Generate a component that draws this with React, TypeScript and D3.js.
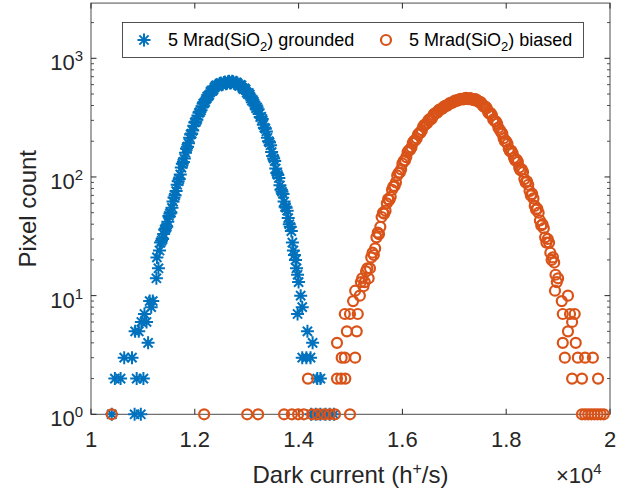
import React from 'react';
import * as d3 from 'd3';

const W = 628;
const H = 493;

// Grounded device: histogram core (40 h+/s bins from 11320), the interleaved
// half-step bins, and the sparse tail bins
const GROUNDED_CORE_START = 11320;
const GROUNDED_CORE_STEP = 40;
const GROUNDED_CORE_COUNT = [
  24, 29, 33, 37, 42, 49, 55, 67, 76, 92, 105, 129, 143, 174, 192, 228, 246, 288, 303, 347,
  365, 414, 428, 477, 492, 535, 545, 585, 582, 612, 600, 625, 610, 633, 620, 640, 615, 628,
  592, 598, 562, 558, 515, 510, 458, 445, 398, 386, 340, 322, 276, 255, 214, 195, 162, 143,
  118, 104, 85, 75, 62, 55, 45, 38, 28, 22, 17, 13,
];
const GROUNDED_MID_COUNT = [
  28, 30, 36, 38, 47, 50, 62, 70, 86, 96, 120, 134, 160, 180, 214, 232, 270, 292, 330, 352,
  395, 418, 458, 480, 520, 532, 570, 592, 596, 618, 605, 630, 615, 640, 622, 635, 610, 618,
  585, 590, 550, 545, 500, 494, 440, 430, 380, 372, 320, 308, 260, 242, 200, 185, 150, 136,
  108, 98, 78, 72, 56, 52, 40, 35, 24, 20, 15,
];
const GROUNDED_TAIL_DC = [
  10400, 10840, 10960, 10460, 10570, 10880, 11010, 10640, 10790, 11100, 10850, 10920, 10970,
  11070, 11030, 11130, 11160, 11190, 11260, 11300, 11270,
  13980, 14070, 14040, 14170, 14270, 14070, 14150, 14230, 14360, 14420, 14240, 14330, 14420,
  14520, 14600, 14680,
];
const GROUNDED_TAIL_COUNT = [
  1, 1, 1, 2, 2, 2, 2, 3, 3, 4, 5, 5, 6, 6, 7, 9, 8, 9, 14, 17, 21,
  7, 8, 10, 5, 4, 3, 3, 3, 2, 2, 1, 1, 1, 1, 1, 1,
];

// Biased device: histogram core (50 h+/s bins from 15200), interleaved
// half-step bins and sparse tail bins
const BIASED_CORE_START = 15200;
const BIASED_CORE_STEP = 50;
const BIASED_CORE_COUNT = [
  13, 12, 16, 14, 21, 22, 31, 33, 46, 49, 60, 64, 78, 84, 103, 109, 130, 138, 162, 170, 194,
  204, 228, 236, 266, 278, 300, 306, 335, 344, 366, 372, 392, 396, 416, 420, 436, 440, 450,
  452, 460, 455, 462, 448, 452, 438, 430, 398, 392, 352, 345, 305, 294, 260, 240, 212, 200,
  172, 166, 145, 140, 120, 116, 96, 92, 76, 72, 57, 54, 43, 40, 31, 30, 23, 21, 15, 14,
];
const BIASED_MID_COUNT = [
  14, 13, 17, 17, 23, 25, 34, 38, 50, 52, 65, 68, 83, 90, 108, 116, 136, 147, 168, 178, 202,
  212, 234, 248, 275, 284, 307, 315, 344, 350, 372, 378, 398, 402, 422, 424, 442, 442, 455,
  450, 464, 452, 458, 444, 448, 426, 420, 390, 380, 342, 332, 296, 282, 250, 232, 200, 190,
  165, 158, 138, 134, 114, 110, 90, 86, 70, 66, 53, 50, 39, 37, 28, 28, 20, 19, 13,
];
const BIASED_TAIL_DC = [
  10400, 12180, 13010, 13220, 13720, 13870, 13990, 14100, 14260, 14370, 14490, 14600, 14700,
  14990, 14180, 14740, 14820, 14900, 14830, 14890, 15090, 14740, 14930, 15120, 14890, 14990,
  15140, 15050, 15180, 15090,
  18940, 19070, 19190, 19090, 19230, 19320, 19270, 19190, 19090, 19340, 19130, 19380, 19520,
  19670, 19270, 19460, 19770, 19460, 19520, 19580, 19640, 19700, 19760, 19820, 19880,
];
const BIASED_TAIL_COUNT = [
  1, 1, 1, 1, 1, 1, 1, 1, 1, 1, 1, 1, 1,
  1, 2, 2, 2, 2, 3, 3, 3, 4, 5, 5, 7, 7,
  7, 9, 10, 11,
  11, 9, 10, 7, 7, 7, 6, 5, 4, 4, 3, 3, 3,
  3, 2, 2, 2, 1, 1, 1, 1, 1, 1, 1, 1,
];

const X_TICKS = [10000, 12000, 14000, 16000, 18000, 20000];
const X_TICK_LABELS = ['1', '1.2', '1.4', '1.6', '1.8', '2'];
const Y_TICKS = [1, 10, 100, 1000];
const Y_TICK_EXPONENTS = ['0', '1', '2', '3'];

const SERIES_NAMES = ['grounded', 'biased'];
const BLUE = '#0072BD';
const ORANGE = '#D95319';
const INK = '#262626';
const FONT = '"Liberation Sans", Arial, Helvetica, sans-serif';

type Pt = { dc: number; n: number };

function buildSeries(
  start: number,
  step: number,
  core: number[],
  mid: number[],
  tailDc: number[],
  tailN: number[],
): Pt[] {
  const bins = core.map((n, i) => ({ dc: start + i * step, n }));
  const half = mid.map((n, i) => ({ dc: start + step / 2 + i * step, n }));
  const tail = tailDc.map((dc, i) => ({ dc, n: tailN[i] }));
  return [...tail, ...bins, ...half];
}

const STAR = 'M-6.5,0H6.5M0,-6.5V6.5M-4.6,-4.6L4.6,4.6M-4.6,4.6L4.6,-4.6';

export default function App() {
  const x = d3.scaleLinear().domain([10000, 20000]).range([91, 610]);
  const y = d3.scaleLog().domain([1, 1000]).range([414.3, 58.3]);
  const yMax = 2920;
  const left = x(10000);
  const right = x(20000);
  const bottom = y(1);
  const top = y(yMax);

  const grounded = buildSeries(GROUNDED_CORE_START, GROUNDED_CORE_STEP, GROUNDED_CORE_COUNT, GROUNDED_MID_COUNT, GROUNDED_TAIL_DC, GROUNDED_TAIL_COUNT);
  const biased = buildSeries(BIASED_CORE_START, BIASED_CORE_STEP, BIASED_CORE_COUNT, BIASED_MID_COUNT, BIASED_TAIL_DC, BIASED_TAIL_COUNT);

  const minorTicks: number[] = [];
  for (let d = 1; d <= 1000; d *= 10) {
    for (let k = 2; k <= 9; k++) {
      const v = d * k;
      if (v < yMax) minorTicks.push(v);
    }
  }

  return (
    <svg width={W} height={H} style={{ position: 'absolute', left: 0, top: 0, background: '#fff' }} fontFamily={FONT}>
      <rect x={0} y={0} width={W} height={H} fill="#fff" />
      {/* axes box */}
      <rect x={left} y={top} width={right - left} height={bottom - top} fill="#fff" stroke="#4d4d4d" strokeWidth={1} />
      {/* x ticks */}
      {X_TICKS.map((t) => (
        <g key={'xt' + t}>
          <line x1={x(t)} x2={x(t)} y1={bottom} y2={bottom - 5.5} stroke={INK} strokeWidth={1} />
          <line x1={x(t)} x2={x(t)} y1={top} y2={top + 5.5} stroke={INK} strokeWidth={1} />
        </g>
      ))}
      {/* y major ticks */}
      {Y_TICKS.map((t) => (
        <g key={'yt' + t}>
          <line x1={left} x2={left + 5.5} y1={y(t)} y2={y(t)} stroke={INK} strokeWidth={1} />
          <line x1={right} x2={right - 5.5} y1={y(t)} y2={y(t)} stroke={INK} strokeWidth={1} />
        </g>
      ))}
      {/* y minor ticks */}
      {minorTicks.map((t) => (
        <g key={'ym' + t}>
          <line x1={left} x2={left + 3} y1={y(t)} y2={y(t)} stroke={INK} strokeWidth={0.8} />
          <line x1={right} x2={right - 3} y1={y(t)} y2={y(t)} stroke={INK} strokeWidth={0.8} />
        </g>
      ))}

      {/* grounded series */}
      <g stroke={BLUE} strokeWidth={2} fill="none">
        {grounded.map((p, i) => (
          <path key={'g' + i} d={STAR} transform={`translate(${x(p.dc)},${y(p.n)})`} />
        ))}
      </g>
      {/* biased series */}
      <g stroke={ORANGE} strokeWidth={2.2} fill="none">
        {biased.map((p, i) => (
          <circle key={'b' + i} cx={x(p.dc)} cy={y(p.n)} r={5} />
        ))}
      </g>

      {/* x tick labels */}
      {X_TICKS.map((t, i) => (
        <text key={'xl' + t} x={x(t)} y={447} textAnchor="middle" fontSize={22} fill={INK}>
          {X_TICK_LABELS[i]}
        </text>
      ))}
      {/* y tick labels */}
      {Y_TICKS.map((t, i) => (
        <text key={'yl' + t} x={83} y={y(t) + 12} textAnchor="end" fontSize={22} fill={INK}>
          10
          <tspan fontSize={15} dy={-9}>{Y_TICK_EXPONENTS[i]}</tspan>
        </text>
      ))}
      {/* x multiplier */}
      <text x={556} y={483} fontSize={22} fill={INK}>
        ×10
        <tspan fontSize={15} dy={-9}>4</tspan>
      </text>

      {/* axis labels */}
      <text x={(left + right) / 2} y={483} textAnchor="middle" fontSize={24} fill={INK}>
        Dark current (h
        <tspan fontSize={16} dy={-9}>+</tspan>
        <tspan dy={9}>/s)</tspan>
      </text>
      <text transform={`translate(36,${(top + bottom) / 2}) rotate(-90)`} textAnchor="middle" fontSize={24} fill={INK}>
        Pixel count
      </text>

      {/* legend */}
      <rect x={122.5} y={22.5} width={461} height={35} fill="#fff" stroke={INK} strokeWidth={0.8} />
      <path d={STAR} transform="translate(144,40)" stroke={BLUE} strokeWidth={2} fill="none" />
      <text x={168} y={46} fontSize={18} fill="#000">
        5 Mrad(SiO
        <tspan fontSize={13} dy={5}>2</tspan>
        <tspan dy={-5}>) {SERIES_NAMES[0]}</tspan>
      </text>
      <circle cx={386} cy={40} r={5} stroke={ORANGE} strokeWidth={2.2} fill="none" />
      <text x={409} y={46} fontSize={18} fill="#000">
        5 Mrad(SiO
        <tspan fontSize={13} dy={5}>2</tspan>
        <tspan dy={-5}>) {SERIES_NAMES[1]}</tspan>
      </text>
    </svg>
  );
}
